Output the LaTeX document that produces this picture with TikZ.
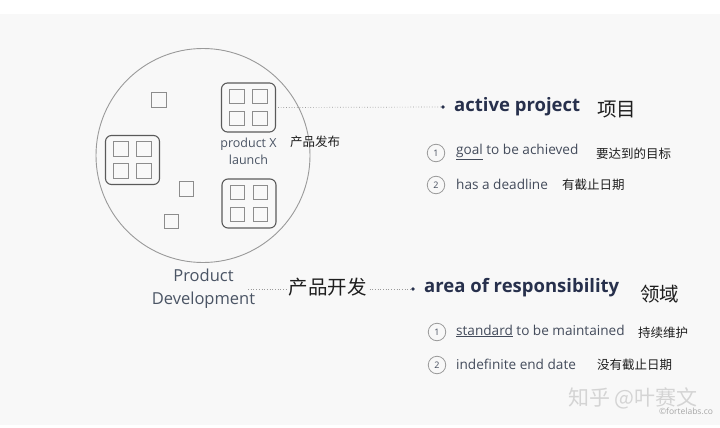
\documentclass[tikz,border=0pt]{standalone}
\usepackage{fontspec}
\setmainfont{Open Sans}
\newfontfamily\cjk{Noto Sans CJK SC}
\definecolor{bgc}{HTML}{F8F8F8}
\definecolor{circc}{HTML}{9A9A9A}
\definecolor{boxc}{HTML}{5A5A5A}
\definecolor{sqc}{HTML}{8C8C8C}
\definecolor{labc}{HTML}{4A5464}
\definecolor{headc}{HTML}{27304C}
\definecolor{itemc}{HTML}{434B5B}
\definecolor{cjkc}{HTML}{1E1E1E}
\definecolor{wmc}{HTML}{D4D4D4}
\begin{document}
\begin{tikzpicture}[x=1pt,y=-1pt,
  grp/.style={draw=boxc, line width=1.1pt, rounded corners=6pt, minimum width=54pt, minimum height=49pt, inner sep=0pt},
  sq/.style={draw=sqc, line width=0.8pt, minimum size=14.5pt, inner sep=0pt},
  quad/.pic={\node[grp] (-b) {};
    \foreach \dx/\dy in {-11.5/-11,11.5/-11,-11.5/11,11.5/11} \node[sq] at (\dx,\dy) {};},
  lab/.style={text=labc, inner sep=0pt},
  head/.style={text=headc, font=\bfseries\fontsize{18.5}{21}\selectfont, inner sep=0pt, anchor=west},
  item/.style={text=itemc, font=\fontsize{13.6}{16}\selectfont, inner sep=0pt, anchor=west},
  cjks/.style={text=cjkc, font=\cjk\fontsize{12.5}{14}\selectfont, inner sep=0pt, anchor=west},
  cjkb/.style={text=cjkc, font=\cjk\fontsize{19.5}{22}\selectfont, inner sep=0pt, anchor=west},
  num/.style={circle, draw=circc, line width=0.8pt, minimum size=17.5pt, inner sep=0pt, text=itemc, font=\fontsize{9}{10}\selectfont},
  dots/.style={draw=circc, dotted, line width=0.7pt},
  dotmark/.style={fill=headc}
]
\fill[white] (0,0) rectangle (720,428);
\fill[bgc] (0,14) rectangle (720,425);
\useasboundingbox (0,0) rectangle (720,428);

% big circle
\node[circle, draw=circc, line width=0.9pt, minimum size=214pt, inner sep=0pt] (pd) at (203,155.5) {};

% groups
\pic (g1) at (248.5,107.5) {quad};
\pic (g2) at (132.5,160) {quad};
\pic (g3) at (249,203.5) {quad};
\node[sq] (s1) at (159,100) {};
\node[sq] (s2) at (186.5,189) {};
\node[sq] (s3) at (171.5,221.5) {};

\node[lab, align=center, font=\fontsize{12.5}{17}\selectfont] (px) at (248.5,151) {product X\\launch};
\node[cjks] (pxc) at (290,142) {产品发布};

% active project
\coordinate (d1) at (443,107);
\draw[dots] (g1-b.east) ++(2,0) -- (d1);
\fill[dotmark] (d1) circle (1.8);
\node[head] (ap) at (454,107) {active project};
\node[cjkb] (apc) at (597,110) {项目};

\node[num] (n1) at (436,153) {1};
\node[item] (i1) at (456,152) {\underline{goal} to be achieved};
\node[cjks] (c1) at (596,154) {要达到的目标};
\node[num] (n2) at (436,185) {2};
\node[item] (i2) at (456,184) {has a deadline};
\node[cjks] (c2) at (562,185) {有截止日期};

% product development
\node[lab, align=center, font=\fontsize{16.5}{23}\selectfont] (pdl) at (203.5,288.5) {Product\\Development};
\coordinate (d2s) at (248,289);
\coordinate (d2) at (413,289);
\draw[dots] (d2s) -- (d2);
\fill[dotmark] (d2) circle (1.8);
\node[cjkb, fill=bgc, inner xsep=1pt, anchor=center] (pdc) at (327.5,287) {产品开发};
\node[head] (ar) at (424,288) {area of responsibility};
\node[cjkb] (arc) at (640,294) {领域};

\node[num] (n3) at (437,332) {1};
\node[item] (i3) at (456,331) {\underline{standard} to be maintained};
\node[cjks] (c3) at (638,333) {持续维护};
\node[num] (n4) at (437,365) {2};
\node[item] (i4) at (456,364) {indefinite end date};
\node[cjks] (c4) at (597,365) {没有截止日期};

% watermark
\node[text=wmc, font=\cjk\fontsize{21}{24}\selectfont, inner sep=0pt] (wm) at (633,398) {知乎 @叶赛文};
\node[text=gray!70, font=\fontsize{8.5}{10}\selectfont, inner sep=0pt] (wm2) at (686,411) {©fortelabs.co};
\end{tikzpicture}
\end{document}
